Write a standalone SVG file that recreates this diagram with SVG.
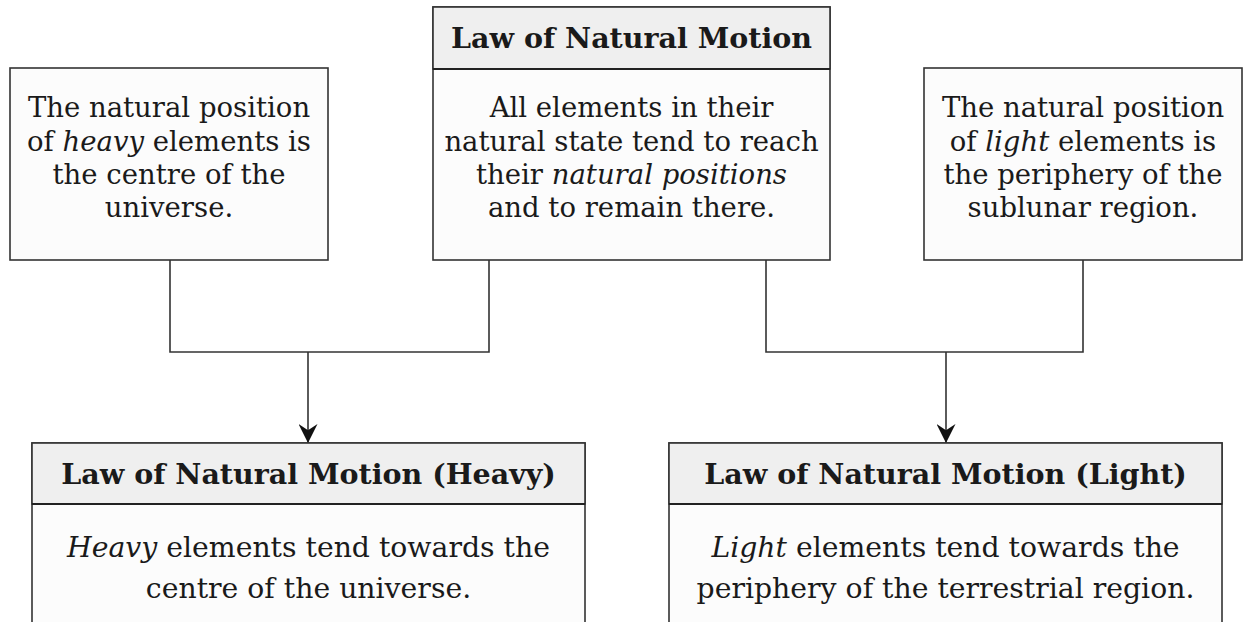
<svg xmlns="http://www.w3.org/2000/svg" width="1244" height="622" viewBox="0 0 1244 622">
<style>
.box{fill:#fcfcfc;stroke:#333;stroke-width:1.6}
.hdr{fill:#efefef;stroke:#333;stroke-width:1.6}
.div{stroke:#222;stroke-width:1.8}
.t{font-family:"DejaVu Serif","Liberation Serif",serif;font-size:27.5px;fill:#1a1a1a;text-anchor:middle}
.lg{font-size:28.3px}
.b{font-weight:bold;font-size:28.5px}
.i{font-style:italic}
.con{fill:none;stroke:#333;stroke-width:1.6}
</style>
<defs>
<marker id="arr" viewBox="0 0 18 18" refX="18" refY="9" markerWidth="19" markerHeight="19" markerUnits="userSpaceOnUse" orient="auto">
<path d="M0,0 L18,9 L0,18 L6,9 Z" fill="#111"/>
</marker>
</defs>
<rect width="1244" height="622" fill="#fff"/>
<g id="connectors">
<path class="con" d="M170,260 V352 H489 V260"/>
<path class="con" d="M308,352 V443" marker-end="url(#arr)"/>
<path class="con" d="M766,260 V352 H1083 V260"/>
<path class="con" d="M946,352 V443" marker-end="url(#arr)"/>
</g>
<g id="heavy-position">
<rect class="box" x="10" y="68" width="318" height="192"/>
<text class="t" x="169" y="117">The natural position</text>
<text class="t" x="169" y="151">of <tspan class="i">heavy</tspan> elements is</text>
<text class="t" x="169" y="184">the centre of the</text>
<text class="t" x="169" y="217">universe.</text>
</g>
<g id="law-natural-motion">
<rect class="box" x="433" y="7" width="397" height="253"/>
<rect class="hdr" x="433" y="7" width="397" height="62"/>
<line class="div" x1="433" y1="69" x2="830" y2="69"/>
<text class="t b" x="631.5" y="48">Law of Natural Motion</text>
<text class="t" x="631.5" y="117">All elements in their</text>
<text class="t" x="631.5" y="151">natural state tend to reach</text>
<text class="t" x="631.5" y="184">their <tspan class="i">natural positions</tspan></text>
<text class="t" x="631.5" y="217">and to remain there.</text>
</g>
<g id="light-position">
<rect class="box" x="924" y="68" width="318" height="192"/>
<text class="t" x="1083" y="117">The natural position</text>
<text class="t" x="1083" y="151">of <tspan class="i">light</tspan> elements is</text>
<text class="t" x="1083" y="184">the periphery of the</text>
<text class="t" x="1083" y="217">sublunar region.</text>
</g>
<g id="law-heavy">
<rect class="box" x="32" y="443" width="553" height="200"/>
<rect class="hdr" x="32" y="443" width="553" height="61"/>
<line class="div" x1="32" y1="504" x2="585" y2="504"/>
<text class="t b" x="308.5" y="484">Law of Natural Motion (Heavy)</text>
<text class="t lg" x="308.5" y="557"><tspan class="i">Heavy</tspan> elements tend towards the</text>
<text class="t lg" x="308.5" y="598">centre of the universe.</text>
</g>
<g id="law-light">
<rect class="box" x="669" y="443" width="553" height="200"/>
<rect class="hdr" x="669" y="443" width="553" height="61"/>
<line class="div" x1="669" y1="504" x2="1222" y2="504"/>
<text class="t b" x="945.5" y="484">Law of Natural Motion (Light)</text>
<text class="t lg" x="945.5" y="557"><tspan class="i">Light</tspan> elements tend towards the</text>
<text class="t lg" x="945.5" y="598">periphery of the terrestrial region.</text>
</g>
</svg>
